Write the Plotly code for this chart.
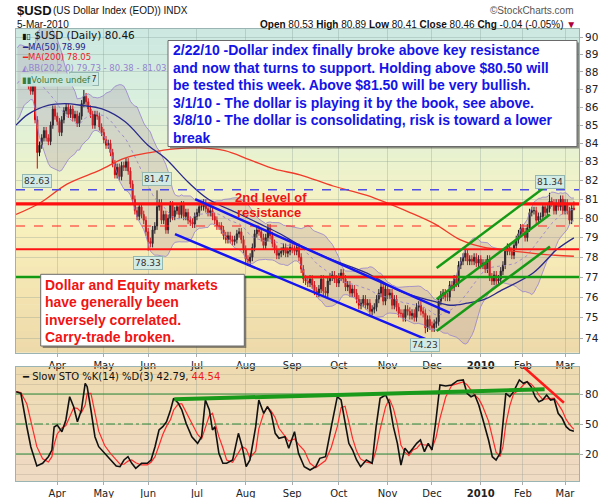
import numpy as np
import pandas as pd
import plotly.graph_objects as go

# ------------------------------------------------------------------ DATA
holidays = ["2009-02-16", "2009-04-10", "2009-05-25", "2009-07-03", "2009-09-07",
            "2009-11-26", "2009-12-25", "2010-01-01", "2010-01-18", "2010-02-15"]

# Feb 6 - Mar 12 2009 closes (history used only for the Bollinger Bands window)
warmup_closes = [85.6, 85.5, 85.9, 86.6, 86.7, 86.3, 87.5, 87.7, 87.4, 87.3, 87.4, 87.1,
                 87.6, 86.6, 88.1, 88.6, 88.7, 88.4, 89.0, 88.7, 89.2, 88.6, 88.1, 87.6]

close_2009_03 = [87.2, 86.9, 87.3, 85.3, 83.5, 83.9, 84.3, 84.7, 84.3, 84.1, 85.0, 85.9, 85.5]
close_2009_04 = [85.2, 84.6, 85.3, 85.8, 86.0, 85.6, 85.9, 85.4, 85.6, 85.1, 85.5, 86.2, 86.6,
                 86.3, 85.9, 85.6, 85.0, 85.6, 85.5, 84.9, 84.6]
close_2009_05 = [84.2, 83.9, 84.0, 83.5, 82.9, 82.3, 82.7, 82.2, 82.8, 82.7, 83.0, 82.5, 81.8,
                 81.0, 80.4, 80.1, 80.6, 80.2, 79.9, 79.3]
close_2009_06 = [78.8, 78.7, 79.4, 79.6, 80.6, 80.8, 79.9, 80.2, 79.4, 80.0, 80.7, 80.1, 80.4,
                 80.6, 80.2, 80.7, 80.1, 80.3, 79.9, 79.8, 79.7, 80.1]
close_2009_07 = [80.3, 80.6, 80.6, 80.8, 80.5, 80.3, 80.4, 80.1, 79.9, 79.6, 79.6, 79.4, 79.1,
                 78.9, 79.1, 78.9, 78.8, 78.9, 79.2, 79.3, 78.9, 78.4]
close_2009_08 = [77.9, 77.8, 78.0, 78.5, 79.2, 79.4, 79.3, 79.0, 78.6, 79.0, 79.5, 79.1, 78.7,
                 78.4, 78.1, 78.2, 78.3, 78.5, 78.2, 78.3, 78.5]
close_2009_09 = [78.4, 78.3, 78.5, 78.0, 77.4, 76.9, 76.8, 76.7, 76.9, 76.6, 76.3, 76.2, 76.4,
                 76.9, 76.3, 76.2, 76.8, 77.0, 77.1, 76.9, 76.7]
close_2009_10 = [77.0, 77.2, 76.9, 76.5, 76.6, 76.2, 76.4, 76.2, 75.9, 75.6, 75.7, 75.9, 75.6,
                 75.7, 75.3, 75.4, 75.5, 75.9, 76.2, 76.5, 75.8, 76.4]
close_2009_11 = [76.1, 76.2, 75.6, 75.9, 75.5, 75.2, 75.2, 75.0, 75.4, 75.3, 75.1, 75.2, 75.0,
                 75.5, 75.6, 75.3, 75.2, 74.5, 74.9, 74.6]
close_2009_12 = [74.5, 74.7, 74.8, 75.8, 76.1, 76.2, 76.0, 76.0, 76.6, 76.5, 76.9, 76.7, 77.6,
                 77.8, 78.0, 78.2, 77.8, 77.9, 77.8, 78.0, 77.7, 77.9]
close_2010_01 = [77.6, 77.7, 77.4, 77.9, 77.0, 76.8, 77.1, 76.8, 76.9, 77.3, 77.6, 78.3, 78.5,
                 78.3, 78.1, 78.6, 78.9, 79.2, 79.5]
close_2010_02 = [79.3, 79.0, 79.5, 80.3, 80.4, 80.4, 79.9, 80.1, 80.1, 80.6, 80.3, 80.5, 80.9,
                 80.8, 80.4, 80.8, 80.6, 81.0, 80.4]
close_2010_03 = [80.8, 80.4, 79.9, 80.53, 80.46]

extreme_high = {"2009-04-20": 86.97, "2009-06-05": 81.47, "2010-02-18": 81.34, "2010-03-05": 80.89}
extreme_low = {"2009-03-19": 82.63, "2009-06-01": 78.33, "2009-08-04": 77.55,
               "2009-11-25": 74.23, "2010-03-05": 80.41}
label_high_dates = ["2009-04-20", "2009-06-05", "2010-02-18"]
label_low_dates = ["2009-03-19", "2009-06-01", "2009-11-25"]

# moving averages (trading-day number, Apr 1 2009 = 0)
ma50_days = [-18.6, -13.2, -4.2, 3.5, 11.1, 20.2, 30.5, 40.9, 48.6, 59.1, 68.2, 82.6, 91.6,
             100.5, 109.5, 124.4, 139.7, 154.6, 169.5, 177.2, 184.8, 192.9, 199.7, 214.6, 225.4, 233]
ma50_vals = [85.0, 85.6, 86.1, 86.2, 86.1, 85.9, 85.2, 83.9, 83.2, 81.9, 81.0, 80.2, 79.7,
             79.2, 78.6, 77.85, 77.2, 76.3, 75.8, 75.6, 75.7, 75.9, 76.3, 77.2, 78.4, 78.99]
ma200_days = [-18.6, -7.8, 4.4, 19.3, 30.5, 41.8, 53.1, 64.4, 75.6, 86.9, 98.2, 109.5, 124.4,
              139.7, 159.1, 170.4, 181.6, 190.7, 199.7, 214.6, 224.5, 233]
ma200_vals = [80.2, 80.8, 81.8, 82.55, 83.2, 83.5, 83.7, 83.75, 83.6, 83.1, 82.6, 82.3, 81.7,
              81.2, 80.3, 79.7, 78.9, 78.55, 78.38, 78.2, 78.1, 78.05]

# Slow stochastic %K
sto_days = [-18.5, -16.4, -13.7, -11.9, -9.2, -6.6, -4.0, -2.4, -1.4, 0, 2.1, 3.9, 5.6, 7.4, 9.1,
            10.9, 12.6, 13.5, 15.2, 17, 18.7, 21.4, 24, 26.6, 28.3, 30.1, 31.9, 33.6, 35.4, 38,
            40.6, 42.3, 44.1, 45.9, 47.6, 49.3, 51.1, 52.5, 54.6, 56.2, 58.1, 60.7, 63.3, 65.1,
            66.8, 68.6, 70, 71.1, 72.9, 74.7, 76.4, 79.1, 81.7, 83.4, 85.2, 86.9, 89.5, 90.9,
            93.1, 94.8, 96.5, 98.3, 100, 102.7, 104.4, 107, 108.8, 111.4, 114, 116.6, 118.4, 121,
            123.6, 126.3, 128, 129.8, 131.5, 133.2, 135, 136.8, 139.4, 142, 143.8, 145.6, 148.1,
            149.8, 151.6, 153.4, 155, 156.8, 158.6, 160.4, 162.1, 163.8, 165.6, 167.3, 169, 170.8,
            172.6, 175.2, 177.9, 180.5, 183.1, 184.8, 186.6, 188.3, 190.1, 191.8, 194.5, 196.2,
            197.9, 199.7, 201, 202.3, 204.1, 205.8, 208.4, 210.2, 211.9, 213.7, 215.5, 217.2,
            218.9, 220.7, 222.5, 224.1, 225.9, 227.7, 229.5, 231.2, 233]
sto_k = [82.3, 80.7, 47, 27, 8, 10.7, 17.3, 24, 47, 49, 42.3, 54, 77.3, 67.3, 52.3,
         64, 90.7, 87.3, 64, 37.3, 27.3, 20.7, 14, 8, 7.3, 14, 17.3, 10.7, 5.7, 10.7,
         10.7, 14, 27.3, 44, 47.3, 52.3, 64, 75.7, 70.7, 64, 50.7, 37.3, 30.7, 37.3,
         74, 64, 44, 47.3, 20.7, 10.7, 10.7, 14, 40.7, 27.3, 7.3, 14, 47.3, 74,
         60.7, 67.3, 60.7, 40.7, 35.7, 37.3, 25.7, 42.3, 20.7, 7.3, 4, 7.3, 15.7, 17.3,
         47.3, 77.3, 74, 52, 30.7, 24, 14, 7.3, 14, 10.7, 47.3, 75.7, 79,
         70.7, 47.3, 30.7, 9, 25.7, 20.7, 25.7, 30.7, 34, 22.3, 30.7, 24, 54,
         89, 88, 89, 93.3, 94, 80.7, 77.3, 79, 69, 55.7, 34, 17.3,
         14, 20.7, 47.3, 80.7, 77.3, 82.3, 94, 90.7, 92.3, 87.3, 77.3, 72.3,
         74, 79, 74, 74.7, 60.7, 55.7, 47.3, 44, 42.79]

# drawn support / resistance levels and trend lines (trading-day number, price)
level_blue_dash = 81.5
level_red_thick = 80.75
level_red_dash = 79.6
level_red_mid = 78.41
level_green = 77.0
red_over_green_days = [111, 180.2]
blue_upper = ([62.2, 177.1], [81.0, 75.23])
blue_lower = ([53.1, 167.2], [79.18, 73.9])
green_top = ([171.1, 222.2], [77.45, 81.84])
green_mid = ([171.1, 222.2], [75.89, 80.2])
green_bot = ([171.1, 222.2], [74.34, 78.54])
sto_green = ([52.8, 219.8], [74.7, 84.7])
sto_red = ([210.2, 228.5], [107.3, 71.3])

month_labels = ["Apr", "May", "Jun", "Jul", "Aug", "Sep", "Oct", "Nov", "Dec", "<b>2010</b>", "Feb", "Mar"]

# ------------------------------------------------------------------ PREP
days = pd.bdate_range("2009-02-06", "2010-03-05")
days = days[~days.isin(pd.to_datetime(holidays))]
warm_days = days[days < "2009-03-13"]
main_days = days[days >= "2009-03-13"]
closes = (close_2009_03 + close_2009_04 + close_2009_05 + close_2009_06 + close_2009_07 +
          close_2009_08 + close_2009_09 + close_2009_10 + close_2009_11 + close_2009_12 +
          close_2010_01 + close_2010_02 + close_2010_03)
assert len(warm_days) == len(warmup_closes), (len(warm_days), len(warmup_closes))
assert len(main_days) == len(closes), (len(main_days), len(closes))

all_days = days
all_closes = np.array(warmup_closes + closes)
apr1 = int(np.where(all_days == pd.Timestamp("2009-04-01"))[0][0])
all_x = np.arange(len(all_days)) - apr1
nw = len(warmup_closes)
x_main = all_x[nw:]

WICK = 0.2
opens = all_closes[nw - 1:-1]
cl = np.array(closes)
highs = np.maximum(opens, cl) + WICK
lows = np.minimum(opens, cl) - WICK
ds = [d.strftime("%Y-%m-%d") for d in main_days]
for i, d in enumerate(ds):
    if d in extreme_high:
        highs[i] = extreme_high[d]
    if d in extreme_low:
        lows[i] = extreme_low[d]
opens[-1] = 80.53

s = pd.Series(all_closes)
bb_mid = s.rolling(20).mean()
bb_sd = s.rolling(20).std(ddof=0)
ok = bb_mid.notna().values
bb_x = all_x[ok]
bb_m = bb_mid.values[ok]
bb_u = (bb_mid + 2 * bb_sd).values[ok]
bb_l = (bb_mid - 2 * bb_sd).values[ok]

sto_d = pd.Series(sto_k).rolling(3, min_periods=1).mean().values

month_first = []
for m in pd.period_range("2009-04", "2010-03", freq="M"):
    sel = all_x[(all_days.to_period("M") == m)]
    month_first.append(int(sel[0]))

# ------------------------------------------------------------------ GEOMETRY
W, H = 610, 498
def PX(px): return px / W
def PY(py): return 1 - py / H
L, R = 16, 579
MT, MB = 29, 352.7
LT, LB = 367, 481
XMIN, XMAX = -18.6, 235.3
YLOG = [np.log10(73.30), np.log10(90.49)]

fig = go.Figure()

def line(x, y, color, width, dash=None, xa="x", ya="y", shape="linear"):
    fig.add_trace(go.Scatter(x=x, y=y, mode="lines", xaxis=xa, yaxis=ya, hoverinfo="skip",
                             showlegend=False,
                             line=dict(color=color, width=width, dash=dash, shape=shape)))

# Bollinger bands
line(bb_x, bb_u, "rgba(150,130,205,0.8)", 1)
fig.add_trace(go.Scatter(x=bb_x, y=bb_l, mode="lines", fill="tonexty",
                         fillcolor="rgba(150,120,150,0.22)", hoverinfo="skip", showlegend=False,
                         line=dict(color="rgba(150,130,205,0.8)", width=1)))
line(bb_x, bb_m, "rgba(150,130,205,0.85)", 1, dash="dot")
# moving averages
line(ma200_days, ma200_vals, "#f03a2a", 1.3, shape="spline")
line(ma50_days, ma50_vals, "#2a2a8c", 1.3, shape="spline")

# candles
fig.add_trace(go.Candlestick(x=x_main, open=opens, high=highs, low=lows, close=cl,
                             increasing=dict(line=dict(color="#111111", width=1), fillcolor="#111111"),
                             decreasing=dict(line=dict(color="#e00000", width=1), fillcolor="#e00000"),
                             whiskerwidth=0, hoverinfo="skip", showlegend=False))

# levels
xr = [XMIN, XMAX]
line(xr, [level_green] * 2, "#139a13", 2.5)
line(red_over_green_days, [level_green] * 2, "#ff1414", 2.5)
line(xr, [level_blue_dash] * 2, "#4f4fe8", 1.4, dash="dash")
line(xr, [level_red_dash] * 2, "#ff2020", 1.2, dash="dash")
line(xr, [level_red_mid] * 2, "#ff1414", 2)
line(xr, [level_red_thick] * 2, "#ff1010", 3.2)
for tl in (blue_upper, blue_lower):
    line(tl[0], tl[1], "#1515f0", 2.5)
for tl in (green_top, green_mid, green_bot):
    line(tl[0], tl[1], "#169a16", 2.5)

# lower panel
for v, dsh in ((80, None), (20, None), (50, "dashdot")):
    line(xr, [v, v], "#2a8a3a", 1.1, dash=dsh, xa="x2", ya="y2")
line(sto_days, sto_d, "#ff2a2a", 1.2, xa="x2", ya="y2")
line(sto_days, sto_k, "#111111", 1.6, xa="x2", ya="y2")
line(sto_green[0], sto_green[1], "#1a9a1a", 4, xa="x2", ya="y2")
line(sto_red[0], sto_red[1], "#ff1a1a", 2.5, xa="x2", ya="y2")

# ------------------------------------------------------------------ BACKGROUND GRADIENTS
def lerp(stops, t):
    for (t0, c0), (t1, c1) in zip(stops[:-1], stops[1:]):
        if t0 <= t <= t1:
            f = (t - t0) / (t1 - t0)
            c = [round(a + (b - a) * f) for a, b in zip(c0, c1)]
            return "rgb(%d,%d,%d)" % tuple(c)
    return "rgb(%d,%d,%d)" % stops[-1][1]

main_stops = [(0.0, (203, 232, 225)), (0.22, (218, 239, 222)), (0.42, (236, 242, 205)),
              (0.6, (248, 241, 190)), (0.8, (244, 229, 178)), (1.0, (237, 217, 170))]
low_stops = [(0.0, (238, 219, 177)), (1.0, (239, 218, 196))]
shapes = []
def bands(top, bot, stops, n):
    for i in range(n):
        y0 = top + (bot - top) * i / n
        y1 = top + (bot - top) * (i + 1) / n + 0.6
        shapes.append(dict(type="rect", xref="paper", yref="paper", x0=PX(L), x1=PX(R),
                           y0=PY(min(y1, bot)), y1=PY(y0), layer="below", line=dict(width=0),
                           fillcolor=lerp(stops, (i + 0.5) / n)))
bands(MT, MB, main_stops, 60)
bands(LT, LB, low_stops, 20)

def box(x0, y0, x1, y1):
    shapes.append(dict(type="rect", xref="paper", yref="paper", x0=PX(x0 + 2), x1=PX(x1 + 2),
                       y0=PY(y1 + 2), y1=PY(y0 + 2), layer="above", line=dict(width=0),
                       fillcolor="rgba(60,60,60,0.55)"))
    shapes.append(dict(type="rect", xref="paper", yref="paper", x0=PX(x0), x1=PX(x1),
                       y0=PY(y1), y1=PY(y0), layer="above",
                       line=dict(color="#6a6a6a", width=1), fillcolor="white"))
box(168, 40.5, 577, 146.5)
box(40.7, 274.3, 244.3, 346)

# ------------------------------------------------------------------ TEXT
ann = []
def text(px, py, s, size=10, color="#111", family="Liberation Sans", anchor="left", **kw):
    d = dict(xref="paper", yref="paper", x=PX(px), y=PY(py), text=s, showarrow=False,
             xanchor=anchor, yanchor="middle", font=dict(size=size, color=color, family=family))
    d.update(kw)
    ann.append(d)

# header
text(15, 10, "<b>$USD</b>", size=13)
text(51, 10.5, "(US Dollar Index (EOD)) INDX", size=10)
text(576, 10.5, "©StockCharts.com", size=10, color="#555", anchor="right")
text(15, 24, "5-Mar-2010", size=10)
text(578, 24, "<b>Open</b> 80.53 <b>High</b> 80.89 <b>Low</b> 80.41 <b>Close</b> 80.46 "
     "<b>Chg</b> -0.04 (-0.05%) <span style='color:#b0003a'>▼</span>", size=10, anchor="right")

# extreme price labels
def plabel(d, val, up):
    i = ds.index(d)
    ann.append(dict(xref="x", yref="y", x=float(x_main[i]), y=float(np.log10(val)),
                    text="%.2f" % val, showarrow=False, yshift=11 if up else -12,
                    font=dict(size=9, color="#333", family="DejaVu Sans"),
                    bgcolor="#d3ebe5", bordercolor="#94b8b0", borderwidth=1, borderpad=1))
for d in label_high_dates:
    plabel(d, extreme_high[d], True)
for d in label_low_dates:
    plabel(d, extreme_low[d], False)

# main legend
text(20, 35, "<span style='font-size:8px'>▮▯</span> $USD (Daily) 80.46", size=10.5, family="DejaVu Sans")
text(20, 46.5, "━MA(50) 78.99", size=8.5, color="#23238a", family="DejaVu Sans")
text(20, 57, "━MA(200) 78.05", size=8.5, color="#ee1c1c", family="DejaVu Sans")
text(20, 68, "◭BB(20,2.0) 79.73 - 80.38 - 81.03", size=8.5, color="#9484cf", family="DejaVu Sans")
text(20, 79.5, "▮▮Volume undef", size=8.5, color="#3b7b3b", family="DejaVu Sans",
     bgcolor="rgba(200,229,219,0.97)", borderpad=1)

# blue commentary
blue_lines = ["2/22/10 -Dollar index finally broke above key resistance",
              "and now that turns to support. Holding above $80.50 will",
              "be tested this week. Above $81.50 will be very bullish.",
              "3/1/10 - The dollar is playing it by the book, see above.",
              "3/8/10 - The dollar is consolidating, risk is toward a lower",
              "break"]
for k, s in enumerate(blue_lines):
    text(171, 50 + k * 17.5, "<b>" + s + "</b>", size=14, color="#1414e8")

red_lines = ["Dollar and Equity markets", "have generally been",
             "inversely correlated.", "Carry-trade broken."]
for k, s in enumerate(red_lines):
    text(43, 285 + k * 17.3, "<b>" + s + "</b>", size=14, color="#f01414")

text(233, 197, "<b>2nd level of</b>", size=13, color="#f01414")
text(235, 212.5, "<b>resistance</b>", size=13, color="#f01414")

text(20, 376, "━ Slow STO %K(14) %D(3) 42.79, <span style='color:#ee1c1c'>44.54</span>",
     size=10, family="DejaVu Sans")

# ------------------------------------------------------------------ LAYOUT
grid = "rgba(120,145,135,0.28)"
axis_line = "#9ab4b4"
tickfont = dict(size=10, color="#222", family="DejaVu Sans")
xcommon = dict(range=[XMIN, XMAX], tickmode="array", tickvals=month_first, ticktext=month_labels,
               showgrid=True, gridcolor=grid, gridwidth=1, zeroline=False, ticks="outside",
               ticklen=3, tickcolor="#aaa", tickfont=tickfont, showline=True, mirror=True,
               linecolor=axis_line, domain=[PX(L), PX(R)], fixedrange=True)
fig.update_layout(
    width=W, height=H, margin=dict(l=0, r=0, t=0, b=0),
    paper_bgcolor="white", plot_bgcolor="rgba(0,0,0,0)", showlegend=False,
    xaxis=dict(xcommon, anchor="y", rangeslider=dict(visible=False)),
    yaxis=dict(type="log", range=YLOG, domain=[PY(MB), PY(MT)], side="right", anchor="x",
               tickmode="array", tickvals=list(range(74, 91)), ticktext=[str(v) for v in range(74, 91)],
               showgrid=True, gridcolor=grid, zeroline=False, ticks="outside", ticklen=3,
               tickcolor="#aaa", tickfont=dict(size=10.5, color="#222", family="DejaVu Sans"),
               showline=True, mirror=True, linecolor=axis_line),
    xaxis2=dict(xcommon, anchor="y2"),
    yaxis2=dict(range=[-7, 107], domain=[PY(LB), PY(LT)], side="right", anchor="x2",
                tickmode="array", tickvals=[20, 50, 80], showgrid=False, zeroline=False,
                minor=dict(tickmode="linear", tick0=0, dtick=10, showgrid=True,
                           gridcolor="rgba(150,140,120,0.25)", ticklen=0),
                ticks="outside", ticklen=3, tickcolor="#aaa",
                tickfont=dict(size=10.5, color="#222", family="DejaVu Sans"),
                showline=True, mirror=True, linecolor=axis_line),
    shapes=shapes, annotations=ann,
)

fig.write_html("out.html")
